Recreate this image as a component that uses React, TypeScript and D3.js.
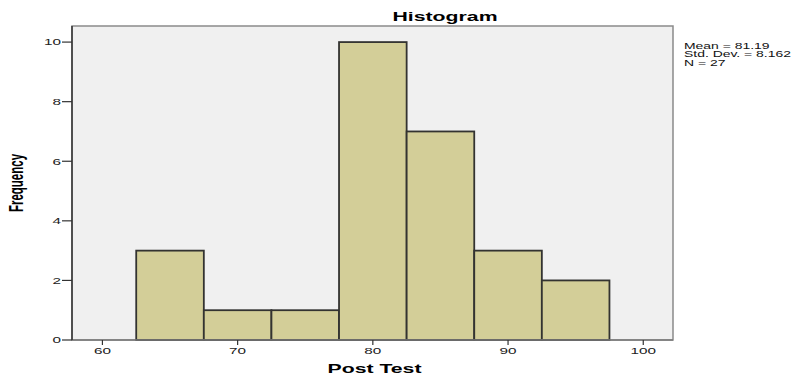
import React from "react";
import * as d3 from "d3";

const binStarts = [62.5, 67.5, 72.5, 77.5, 82.5, 87.5, 92.5];
const binWidth = 5;
const frequencies = [3, 1, 1, 10, 7, 3, 2];
const xTicks = [60, 70, 80, 90, 100];
const yTicks = [0, 2, 4, 6, 8, 10];
const statsLines = ["Mean = 81.19", "Std. Dev. = 8.162", "N = 27"];

const W = 807;
const H = 376;
const SX = 1.7;
const FONT = "Liberation Sans, Arial, sans-serif";

function T({ x, y, children, size, bold, anchor = "start", rotate = 0, fill = "#000" }: any) {
  return (
    <g transform={`translate(${x},${y}) rotate(${rotate}) scale(${rotate ? 1 : SX},${rotate ? SX : 1})`}>
      <text
        fontFamily={FONT}
        fontSize={size}
        fontWeight={bold ? "bold" : "normal"}
        textAnchor={anchor}
        fill={fill}
      >
        {children}
      </text>
    </g>
  );
}

export default function App() {
  const left = 72, right = 673, top = 26, bottom = 340;
  const x = d3.scaleLinear().domain([57.75, 102.2]).range([left, right]);
  const y = d3.scaleLinear().domain([0, 10.54]).range([bottom, top]);

  return (
    <svg width={W} height={H} style={{ position: "absolute", left: 0, top: 0 }}>
      <rect x={0} y={0} width={W} height={H} fill="#fff" />
      <rect x={left} y={top} width={right - left} height={bottom - top} fill="#f0f0f0" stroke="#8a8a8a" strokeWidth={1.5} />
      {binStarts.map((b, i) => (
        <rect
          key={i}
          x={x(b)}
          y={y(frequencies[i])}
          width={x(b + binWidth) - x(b)}
          height={bottom - y(frequencies[i])}
          fill="#d3ce98"
          stroke="#333331"
          strokeWidth={1.8}
        />
      ))}
      <line x1={left} x2={right} y1={bottom} y2={bottom} stroke="#7a7a7a" strokeWidth={1.5} />
      <line x1={left} x2={left} y1={top} y2={bottom} stroke="#333" strokeWidth={1.5} />
      {yTicks.map((t) => (
        <g key={t}>
          <line x1={left - 10} x2={left} y1={y(t)} y2={y(t)} stroke="#333" strokeWidth={1.2} />
          <T x={left - 11} y={y(t) + 3.3} size={9} anchor="end" fill="#222">{t}</T>
        </g>
      ))}
      {xTicks.map((t) => (
        <g key={t}>
          <line x1={x(t)} x2={x(t)} y1={bottom} y2={bottom + 5} stroke="#333" strokeWidth={1.2} />
          <T x={x(t)} y={bottom + 14} size={9} anchor="middle" fill="#222">{t}</T>
        </g>
      ))}
      <T x={445} y={21} size={12.5} bold anchor="middle">Histogram</T>
      <T x={(left + right) / 2 + 2} y={373} size={12.5} bold anchor="middle">Post Test</T>
      <T x={23} y={183} size={11.5} bold anchor="middle" rotate={-90}>Frequency</T>
      {statsLines.map((s, i) => (
        <T key={i} x={684} y={48.5 + i * 8.5} size={8.2} fill="#111">{s}</T>
      ))}
    </svg>
  );
}
